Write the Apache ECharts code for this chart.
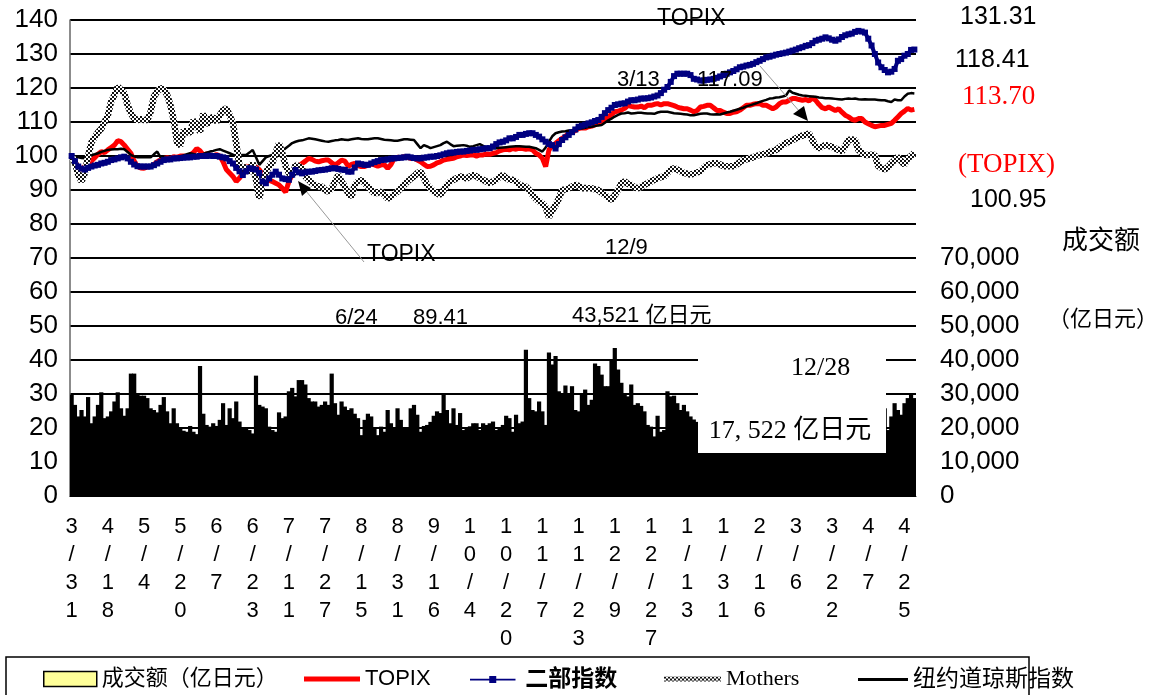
<!DOCTYPE html>
<html>
<head>
<meta charset="utf-8">
<script src="https://cdn.jsdelivr.net/npm/echarts@6/dist/echarts.min.js"></script>
<style>
html, body { margin: 0; background: #fff; }
#chart { width: 1162px; height: 695px; }
</style>
</head>
<body>
<div id="chart"></div>
<script>
// 日期刻度 (每11个交易日一个)
var tickDates = ['3/31', '4/18', '5/4', '5/20', '6/7', '6/23', '7/11', '7/27', '8/15', '8/31', '9/16', '10/4',
    '10/20', '11/7', '11/23', '12/9', '12/27', '1/13', '1/31', '2/16', '3/6', '3/22', '4/7', '4/25'];
var tickStep = 11;

// TOPIX
var topix = [
    100, 98.5, 96.5, 96, 97, 97.8, 98.5, 99.5, 100.5, 101.3, 101,
    101.8, 102.5, 103.2, 104.5, 104.2, 103.2, 102, 100.8, 98.5, 96.9, 96.5,
    96.4, 96.8, 96.9, 97.5, 98.3, 98.8, 99.3, 99.5, 99.2, 99.8, 99.6,
    100, 100, 99.8, 100.3, 101, 102.2, 101.5, 100.3, 100.6, 100.3, 100.1,
    100.4, 100, 98.3, 96, 95, 94, 92.5, 93.5, 95, 97, 96.8,
    96.4, 96.8, 96, 94.5, 93, 92.8, 92.5, 92, 91.5, 90.5, 89.4,
    92.5, 94.5, 96, 97, 97.8, 98.5, 99.3, 99, 98.5, 98.3, 98.6,
    98.8, 98.8, 98, 97.4, 98, 98.8, 98.5, 97, 97.5, 97.8, 97.2,
    96.9, 96.9, 97.3, 97.6, 97.4, 97, 97.4, 97.4, 96.4, 97.5, 99.3,
    99.6, 99.5, 99.8, 99.6, 99.3, 99.3, 98.8, 98.3, 97.6, 96.9, 97,
    97.4, 98, 98.3, 98.8, 99, 99.2, 99.3, 99.8, 100, 100.3, 100.1,
    100.3, 100.3, 100, 100.3, 100.3, 100.6, 100.5, 100.8, 101, 101.5, 101.8,
    102, 101.8, 102.2, 102, 102.3, 102.2, 102, 102.1, 101.8, 100.8, 100.3,
    99.3, 96.9, 101.8, 103, 103.7, 104.5, 105.2, 105.8, 106.7, 107, 107.5,
    108.1, 108.3, 108.2, 108.6, 108.8, 109.2, 109.6, 110.3, 111, 111.5, 112.2,
    113, 113.2, 113.5, 114, 114.9, 114.6, 114.4, 114.4, 114.7, 114.2, 114.9,
    114.9, 115.2, 115.4, 115, 115.4, 115.4, 115.1, 114.8, 114.4, 114.1, 113.9,
    113.9, 113.5, 113, 113.4, 114.4, 114.6, 114.9, 114.9, 114.2, 113.4, 113.4,
    112.9, 112.5, 112.5, 112.9, 113, 113.5, 114.2, 114.9, 114.9, 115.2, 115.4,
    115.4, 114.9, 114.9, 114.4, 113.9, 114.4, 115.4, 115.9, 115.9, 116.4, 116.9,
    116.9, 116.6, 116.4, 116.6, 116.2, 117.1, 116.4, 115.2, 114.2, 113.9, 114.4,
    113.9, 113.4, 113.9, 112.9, 112, 111.5, 110.8, 110.5, 111, 111, 110,
    109.5, 109, 108.6, 108.8, 109, 109, 109.3, 109.6, 110.5, 111.5, 112.5,
    113.2, 114, 113.5, 113.7
];

// 二部指数
var second = [
    100, 98.5, 96.9, 96.3, 96, 96.5, 96.9, 97.2, 97.4, 97.8, 98,
    98.3, 98.8, 99, 99.3, 99.6, 99.8, 99.3, 98.3, 97.5, 97, 96.9,
    96.9, 96.9, 96.9, 97.3, 97.8, 98.3, 98.8, 99, 99, 99.3, 99.3,
    99.4, 99.5, 99.6, 99.6, 99.8, 99.8, 100, 100, 100, 100.1, 100,
    100, 99.8, 99.6, 99.3, 98.5, 97.8, 96.5, 95.5, 94.4, 95.5, 96.4,
    96.2, 96, 95, 92.5, 92, 93.4, 94.5, 95.4, 94.5, 93.4, 93.2,
    93, 94.5, 95.9, 95.2, 94.9, 95.2, 95.4, 95.4, 95.6, 95.8, 95.9,
    96, 96.2, 96.4, 96.4, 96.2, 96, 95.9, 95.4, 95.4, 96.6, 97.8,
    97.6, 97.4, 97.4, 97.8, 98.2, 98.5, 98.8, 98.9, 99, 99.2, 99.3,
    99.4, 99.5, 99.6, 99.8, 99.6, 99.4, 99.3, 99.3, 99.5, 99.6, 99.8,
    99.8, 100, 100.2, 100.5, 100.8, 101, 101, 101.2, 101.3, 101.3, 101.5,
    101.6, 101.8, 101.8, 102, 102.1, 102.3, 102.3, 102.8, 103.5, 104, 104.2,
    104.6, 105.2, 105.2, 105.6, 106.2, 106.2, 106.5, 106.7, 106.7, 106.2, 105.7,
    104.9, 104.2, 103.5, 103.2, 102.2, 103.5, 104.7, 105.5, 106.2, 107, 107.8,
    108.6, 108.9, 109.2, 109.6, 109.9, 110.3, 110.6, 111.5, 112.6, 113.5, 114.2,
    115, 115.2, 115.4, 115.5, 116, 116.4, 116.4, 116.6, 116.9, 116.9, 117,
    117.2, 117.5, 117.8, 118.5, 119.5, 120.3, 121.8, 123.5, 124.2, 124.2, 124.2,
    124.2, 123.8, 122.7, 122.5, 122.2, 122.2, 122.4, 122.5, 122.7, 123, 123.4,
    123.8, 124.2, 124.6, 125, 125.5, 126.1, 126.3, 126.6, 126.8, 127.1, 127.6,
    128, 128.5, 129, 129.2, 129.5, 129.8, 130, 130.2, 130.4, 130.7, 131,
    131.3, 131.7, 132, 132.4, 132.6, 133.2, 133.9, 134.2, 134.5, 134.9, 134.6,
    134.2, 133.9, 134.3, 135, 135.5, 135.8, 136, 136.5, 136.8, 136.6, 136.3,
    134.5, 132.5, 130, 127.5, 126.1, 125.3, 124.6, 124.8, 125.6, 128, 128.5,
    129.5, 130, 131.2, 131.31
];

// Mothers
var mothers = [
    100, 98, 94.5, 92.5, 95, 100, 104, 105.5, 107, 108, 110,
    112, 116, 118, 120.4, 119.5, 118.4, 115, 112.5, 111, 110.6, 110.8,
    110.6, 110.6, 113, 117.5, 119, 120, 119.5, 118, 115, 110.6, 104,
    103, 107.6, 107, 106.7, 110.6, 109, 107, 112.5, 109, 111, 111.5,
    110, 112, 113.5, 114, 112, 109.6, 103.7, 97, 96, 97, 95,
    98, 93, 87.5, 92, 95, 97, 98, 101, 103.7, 100.8, 97,
    95, 94, 97.4, 97, 96.4, 94, 93, 92, 91.5, 91, 91,
    90, 89.5, 90.5, 92.5, 94.4, 92.5, 91, 89, 88, 91.5, 92.5,
    93, 92, 91, 90, 89, 89.2, 89.5, 88.5, 87.5, 88, 88.8,
    89.5, 90.5, 91.5, 92.5, 93.3, 94, 95, 95.4, 93.5, 91.5, 90.5,
    89.5, 89, 88.5, 90, 91.5, 92.5, 93, 93.5, 94, 93.8, 93.4,
    94, 94.4, 94, 93.4, 93, 92.5, 92, 92.5, 93, 93.8, 94.4,
    93.5, 93, 93, 92.5, 91.5, 91.2, 91, 90, 88.5, 87.5, 86.6,
    86, 85, 82, 84, 85.5, 87.5, 90, 90.2, 90.5, 91, 91.5,
    91.2, 90.5, 90.6, 90.5, 90.5, 90.2, 90, 89.2, 88.5, 87.8, 87,
    88.5, 90, 92, 92.5, 91.8, 91.5, 90.8, 90.5, 91, 91.5, 92,
    92.5, 93, 93.5, 93.8, 94, 95, 96, 96.4, 96, 95.5, 95,
    94.8, 94.5, 94.8, 95.2, 95.4, 96.5, 97.4, 97.6, 97.9, 97.9, 97.5,
    97, 97, 97, 97, 97.5, 98.2, 98.8, 99, 99.3, 99.6, 100,
    100.3, 100.5, 100.8, 101.2, 101.5, 101.8, 102.5, 103.2, 103.8, 104.2, 104.7,
    105.2, 105.7, 106, 106.3, 106.6, 104.7, 103, 102.2, 102.8, 103.2, 103,
    102.7, 102.2, 101.8, 101.3, 103, 104.7, 104.9, 104.7, 101.8, 101, 100.3,
    100.3, 100.4, 100.3, 97, 96.5, 96, 96.8, 97.9, 98.8, 99.8, 98.5,
    97.4, 99.3, 100, 100.95
];

// 纽约道琼斯指数
var dow = [
    100, 99.8, 99.6, 99.4, 99.3, 99.8, 100.3, 100.5, 100.8, 101.2, 101.5,
    101.8, 101.9, 102, 102, 102.1, 102, 101.2, 100.3, 99.9, 99.6, 99.6,
    99.7, 99.6, 99.6, 100.5, 101.3, 99.6, 99.6, 99.4, 99.3, 99.5, 99.7,
    99.8, 100.2, 100.5, 100.8, 100.6, 100.3, 100.3, 100.6, 101, 101.3, 101.5,
    101.8, 102, 101.6, 101.2, 100.8, 100.4, 100, 100.2, 100.3, 100.3, 101,
    101.8, 99.6, 97.4, 98.5, 99.6, 100, 100.3, 100.6, 100.8, 101.5, 102.3,
    103, 103.8, 104.2, 104.5, 104.6, 104.9, 105.2, 105.1, 104.9, 104.7, 104.5,
    104.3, 104.2, 104.4, 104.6, 104.7, 104.9, 104.8, 104.7, 104.9, 105.1, 105.2,
    105, 104.9, 104.9, 105.1, 105.2, 105.2, 105, 104.8, 104.7, 104.6, 104.5,
    104.5, 104.7, 104.9, 104.9, 104.8, 104.7, 103.5, 102.3, 103.2, 102.8, 102.3,
    102.6, 102.9, 103.2, 103.8, 104.2, 103.5, 102.9, 103, 103.1, 103.2, 103,
    102.7, 102.9, 103.2, 103.5, 103, 102.5, 102.3, 102.3, 102.3, 102.4, 102.5,
    102.6, 102.7, 102.8, 102.9, 102.9, 102.8, 102.7, 102.7, 102.5, 102.3, 101.8,
    101.3, 102.5, 104.2, 105.8, 106.7, 107, 107.2, 107.3, 107.5, 107.6, 107.8,
    108, 108.1, 108.3, 108.5, 108.6, 108.8, 109, 109.1, 109.8, 110.5, 111,
    111.6, 112.1, 112.5, 112.6, 112.8, 112.5, 112.6, 112.7, 112.7, 112.6, 112.5,
    112.5, 112.4, 112.8, 113, 113, 113, 112.8, 112.6, 112.5, 112.4, 112.3,
    112.2, 112, 112, 112.2, 112.4, 112.5, 112.5, 112.3, 112.2, 112.3, 112.2,
    112.5, 112.8, 113, 113.3, 113.6, 113.9, 114.2, 114.6, 114.9, 115.2, 115.5,
    115.9, 116.2, 116.5, 116.9, 117, 117.2, 117.3, 117.5, 117.8, 119.3, 118.6,
    118.3, 118, 117.8, 117.7, 117.6, 117.5, 117.4, 117.2, 117.1, 117, 117,
    116.9, 116.8, 116.7, 116.6, 116.8, 116.9, 116.8, 116.9, 116.7, 116.6, 116.7,
    116.6, 116.6, 116.6, 116.5, 116.4, 116.4, 116.1, 115.9, 116.6, 116.4, 116.4,
    117.5, 118.3, 118.5, 118.41
];

// 成交额 (亿日元)
var volume = [
    29800, 26800, 23400, 25300, 23400, 29100, 21400, 23400, 26800, 30500, 22900,
    23400, 24900, 27800, 30500, 25800, 23600, 25800, 36000, 36000, 29800, 29500,
    29500, 28800, 25800, 25300, 24600, 26800, 29100, 24900, 21400, 25800, 21400,
    19900, 19200, 18900, 20600, 18900, 18200, 38200, 24200, 20900, 20400, 21400,
    20600, 22400, 27300, 20900, 25800, 22900, 27800, 21900, 19900, 20200, 19400,
    18400, 35400, 26800, 26300, 25800, 20400, 19400, 18900, 24600, 22900, 23400,
    30800, 31800, 29300, 34100, 34100, 32800, 28800, 27800, 27800, 26300, 26800,
    27800, 26800, 36000, 27300, 23900, 27800, 26300, 25300, 25800, 24200, 22900,
    17900, 22400, 24200, 23400, 19900, 17900, 20400, 18900, 25300, 21400, 19900,
    25800, 22400, 20200, 19900, 25800, 26800, 23900, 18900, 20600, 20900, 21800,
    23600, 24900, 24400, 30300, 25300, 21400, 25800, 20900, 24400, 19400, 19900,
    20500, 21400, 21400, 19400, 21400, 20900, 21400, 21900, 19400, 20200, 20900,
    23600, 22900, 18900, 23900, 21400, 21900, 43000, 28800, 25300, 24900, 27800,
    24900, 20900, 42200, 38700, 41200, 30800, 30300, 32500, 30300, 32300, 25300,
    24900, 29800, 31300, 26800, 28300, 39000, 38200, 35700, 32300, 32300, 40200,
    43521, 37200, 33300, 29800, 29300, 32800, 26800, 27300, 26500, 24900, 20900,
    20400, 17522, 23600, 18900, 19400, 30800, 29300, 29500, 27300, 25300, 26800,
    24900, 23400, 22500, 21800, 23100, 22600, 24500, 25200, 21900, 20800, 22300,
    23700, 24800, 22100, 21500, 23300, 25600, 24100, 22700, 21200, 20500, 22900,
    24300, 26100, 23800, 22400, 21600, 23500, 25400, 27100, 24600, 22800, 21300,
    23900, 26400, 28200, 25700, 23100, 22400, 24800, 26900, 24200, 21700, 20900,
    22600, 24100, 23300, 21800, 20600, 22800, 25100, 23600, 21900, 20300, 22700,
    24600, 23200, 21400, 22900, 24300, 25800, 19400, 23400, 27300, 25300, 23900,
    27300, 28800, 29800, 28800
];

var SANS = "'Liberation Sans', Arial, sans-serif";
var CJK = "'Liberation Sans', 'Noto Sans CJK SC', sans-serif";
var SERIF = "'Liberation Serif', 'Noto Sans CJK SC', serif";

var cats = volume.map(function (v, i) {
    return i % tickStep === 0 ? (tickDates[i / tickStep] || '') : '';
});

// Mothers 的网格花纹
function makeChecker() {
    var c = document.createElement('canvas');
    c.width = 4;
    c.height = 4;
    var g = c.getContext('2d');
    g.fillStyle = '#ffffff';
    g.fillRect(0, 0, 4, 4);
    g.fillStyle = '#111111';
    g.fillRect(0, 0, 2, 2);
    g.fillRect(2, 2, 2, 2);
    return c;
}
var checker = { image: makeChecker(), repeat: 'repeat' };

function txt(text, x, y, font, color, align) {
    return {
        type: 'text', x: x, y: y, z: 110,
        style: { text: text, font: font, fill: color || '#000', align: align || 'left', verticalAlign: 'middle' }
    };
}

function legendItem(item, left, width, height, font, extra) {
    var lg = {
        data: [item], left: left, top: 668, padding: 0,
        itemWidth: width, itemHeight: height, selectedMode: false,
        textStyle: { fontSize: 22, color: '#000', fontFamily: font }
    };
    if (extra) Object.assign(lg.textStyle, extra);
    return lg;
}

var option = {
    animation: false,
    backgroundColor: '#fff',
    grid: { left: 70, top: 20, width: 846, height: 476 },
    legend: [
        legendItem({ name: '成交额（亿日元）', icon: 'rect', itemStyle: { color: '#ffff99', borderColor: '#000', borderWidth: 1.5 } }, 43, 53, 15, CJK),
        legendItem({ name: 'TOPIX', icon: 'rect', itemStyle: { color: '#ff0000' } }, 304, 56, 5, SANS),
        legendItem({ name: '二部指数', icon: 'path://M0,3L22,3L22,0L30,0L30,3L52,3L52,5L30,5L30,8L22,8L22,5L0,5Z', itemStyle: { color: '#000080' } },
            470, 55, 7, CJK, { fontWeight: 'bold', fontSize: 23 }),
        legendItem({ name: 'Mothers', icon: 'rect', itemStyle: { color: checker } }, 664, 57, 5, SERIF),
        legendItem({ name: '纽约道琼斯指数', icon: 'rect', itemStyle: { color: '#000' } }, 858, 50, 3, CJK, { fontSize: 23 })
    ],
    xAxis: {
        type: 'category',
        data: cats,
        axisTick: { show: false },
        axisLine: { lineStyle: { color: '#000', width: 1 } },
        axisLabel: {
            interval: 0,
            margin: 17,
            fontSize: 22,
            lineHeight: 28,
            color: '#000',
            fontFamily: SANS,
            formatter: function (v) { return v.split('').join('\n'); }
        }
    },
    yAxis: [{
        type: 'value', min: 0, max: 140, interval: 10,
        axisLine: { show: true, lineStyle: { color: '#666', width: 1.5 } },
        axisTick: { show: false },
        axisLabel: { fontSize: 26, color: '#000', fontFamily: SANS, margin: 12 },
        splitLine: { lineStyle: { color: '#000', width: 2 } }
    }, {
        type: 'value', min: 0, max: 140000, interval: 10000, position: 'right',
        axisLine: { show: false },
        axisTick: { show: false },
        splitLine: { show: false },
        axisLabel: {
            fontSize: 26, color: '#000', fontFamily: SANS, margin: 24,
            formatter: function (v) {
                return v <= 70000 ? String(v).replace(/\B(?=(\d{3})+(?!\d))/g, ',') : '';
            }
        }
    }],
    series: [{
        name: '成交额（亿日元）',
        type: 'bar',
        yAxisIndex: 1,
        data: volume,
        barWidth: 4.2,
        itemStyle: { color: '#000' }
    }, {
        name: 'TOPIX',
        type: 'line',
        data: topix,
        symbol: 'none',
        color: '#ff0000',
        lineStyle: { color: '#ff0000', width: 5 }
    }, {
        name: '二部指数',
        type: 'line',
        data: second,
        symbol: 'rect',
        symbolSize: 6,
        showAllSymbol: true,
        color: '#000080',
        lineStyle: { color: '#000080', width: 4 }
    }, {
        name: '纽约道琼斯指数',
        type: 'line',
        data: dow,
        symbol: 'none',
        color: '#000',
        lineStyle: { color: '#000', width: 2.5 }
    }, {
        name: 'Mothers',
        type: 'line',
        data: mothers,
        symbol: 'none',
        color: '#777',
        lineStyle: { color: checker, width: 6.5 }
    }],
    graphic: [
        // 图例边框
        { type: 'rect', z: 90, shape: { x: 6, y: 657, width: 1023, height: 50 },
          style: { fill: 'none', stroke: '#000', lineWidth: 1.5 } },
        // 12/28 白框
        { type: 'rect', z: 100, shape: { x: 698, y: 345, width: 188, height: 108 },
          style: { fill: '#fff' } },
        txt('12/28', 791, 368, '26px ' + SERIF),
        txt('17, 522 亿日元', 790, 431, '26px ' + SERIF, '#000', 'center'),
        // 箭头
        { type: 'line', z: 105, shape: { x1: 364, y1: 262, x2: 306, y2: 191 },
          style: { stroke: '#999', lineWidth: 1 } },
        { type: 'polygon', z: 105, shape: { points: [[298, 181], [311, 188], [302, 196]] },
          style: { fill: '#000' } },
        { type: 'line', z: 105, shape: { x1: 760, y1: 66, x2: 800, y2: 112 },
          style: { stroke: '#999', lineWidth: 1 } },
        { type: 'polygon', z: 105, shape: { points: [[793, 114], [804, 106], [808, 121]] },
          style: { fill: '#000' } },
        // 注释
        txt('TOPIX', 657, 19, '23px ' + SANS),
        txt('3/13', 617, 80, '22px ' + SANS),
        txt('117.09', 697, 80, '22px ' + SANS),
        txt('TOPIX', 367, 255, '23px ' + SANS),
        txt('12/9', 605, 248, '22px ' + SANS),
        txt('6/24', 335, 318, '22px ' + SANS),
        txt('89.41', 413, 318, '22px ' + SANS),
        txt('43,521 亿日元', 572, 316, '22px ' + CJK),
        // 右侧数值
        txt('131.31', 960, 17, '25px ' + SANS),
        txt('118.41', 955, 60, '25px ' + SANS),
        txt('113.70', 962, 97, '27px ' + SERIF, '#ff0000'),
        txt('(TOPIX)', 958, 165, '27px ' + SERIF, '#ff0000'),
        txt('100.95', 970, 200, '25px ' + SANS),
        txt('成交额', 1062, 242, '26px ' + CJK),
        txt('（亿日元）', 1048, 320, '22px ' + CJK)
    ]
};

var myChart = echarts.init(document.getElementById('chart'));
myChart.setOption(option);
</script>
</body>
</html>
